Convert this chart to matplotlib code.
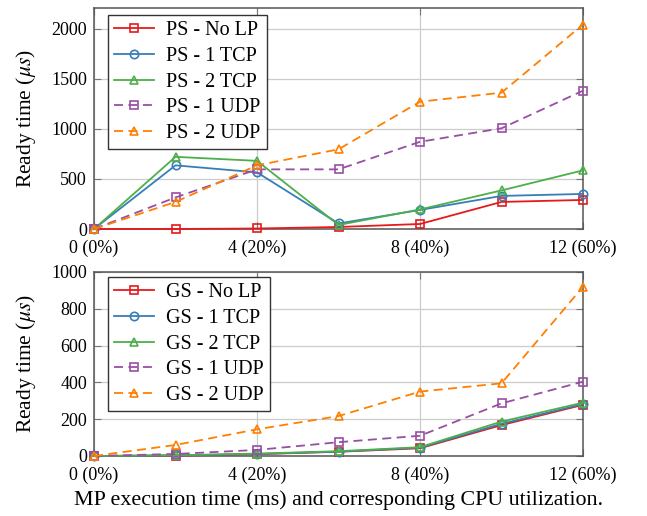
import numpy as np
import matplotlib.pyplot as plt

plt.rcParams['font.family'] = ['Liberation Serif', 'DejaVu Serif']
plt.rcParams['mathtext.fontset'] = 'stix'

x = [0, 2, 4, 6, 8, 10, 12]
xticks = [0, 4, 8, 12]
xticklabels = ['0 (0%)', '4 (20%)', '8 (40%)', '12 (60%)']

# top panel (PS)
ps_nolp = [0, 0, 5, 20, 50, 270, 290]
ps_1tcp = [0, 635, 565, 55, 190, 330, 350]
ps_2tcp = [0, 720, 680, 40, 195, 385, 585]
ps_1udp = [0, 315, 595, 595, 870, 1005, 1380]
ps_2udp = [0, 270, 635, 795, 1270, 1360, 2040]

# bottom panel (GS)
gs_nolp = [0, 2, 10, 23, 42, 168, 278]
gs_1tcp = [0, 3, 11, 24, 45, 175, 282]
gs_2tcp = [0, 4, 13, 26, 48, 187, 290]
gs_1udp = [0, 11, 33, 75, 110, 286, 404]
gs_2udp = [0, 60, 145, 217, 350, 395, 920]

names = ['No LP', '1 TCP', '2 TCP', '1 UDP', '2 UDP']
colors = ['#e41a1c', '#377eb8', '#4daf4a', '#984ea3', '#ff7f00']
markers = ['s', 'o', '^', 's', '^']
styles = ['-', '-', '-', '--', '--']

fig = plt.figure(figsize=(6.47, 5.16), dpi=100)
ax1 = fig.add_axes([94/647, 1-229/516, (583-94)/647, (229-7.5)/516])
ax2 = fig.add_axes([94/647, 1-456/516, (583-94)/647, (456-272)/516])

def panel(ax, series, prefix, ymax, yticks, legtop):
    for i, ys in enumerate(series):
        ax.plot(x, ys, color=colors[i], linestyle=styles[i], marker=markers[i],
                markersize=6, markerfacecolor='none', markeredgewidth=1.2,
                linewidth=1.3, dashes=(5, 3) if styles[i] == '--' else (None, None),
                label=prefix + ' - ' + names[i], clip_on=False, zorder=3)
    ax.set_xlim(0, 12)
    ax.set_ylim(0, ymax)
    ax.set_xticks(xticks)
    ax.set_xticklabels(xticklabels)
    ax.set_yticks(yticks)
    ax.grid(True, color='#cccccc', linewidth=0.9)
    ax.set_axisbelow(True)
    ax.tick_params(direction='in', top=True, right=True, labelsize=13,
                   color='#777777', length=5, pad=5)
    ax.tick_params(axis='x', pad=7.5)
    for s in ax.spines.values():
        s.set_color('#555555')
        s.set_linewidth(1.1)
    ax.set_ylabel(r'Ready time ($\mu s$)', fontsize=15.5)
    ax.yaxis.set_label_coords(-0.115, 0.5)
    leg = ax.legend(loc='upper left', fontsize=14.5, fancybox=False, framealpha=1,
                    edgecolor='#333333', handlelength=2.0, handletextpad=0.6,
                    borderpad=0.3, labelspacing=0.33, borderaxespad=0,
                    bbox_to_anchor=(14/489, legtop))
    leg.get_frame().set_linewidth(1.0)

panel(ax1, [ps_nolp, ps_1tcp, ps_2tcp, ps_1udp, ps_2udp], 'PS', 2210,
      [0, 500, 1000, 1500, 2000], (229-15)/221.5)
panel(ax2, [gs_nolp, gs_1tcp, gs_2tcp, gs_1udp, gs_2udp], 'GS', 1000,
      [0, 200, 400, 600, 800, 1000], (456-277)/184)
ax2.set_xlabel('MP execution time (ms) and corresponding CPU utilization.', fontsize=15.8, labelpad=5)

fig.savefig('out.png', dpi=100)
